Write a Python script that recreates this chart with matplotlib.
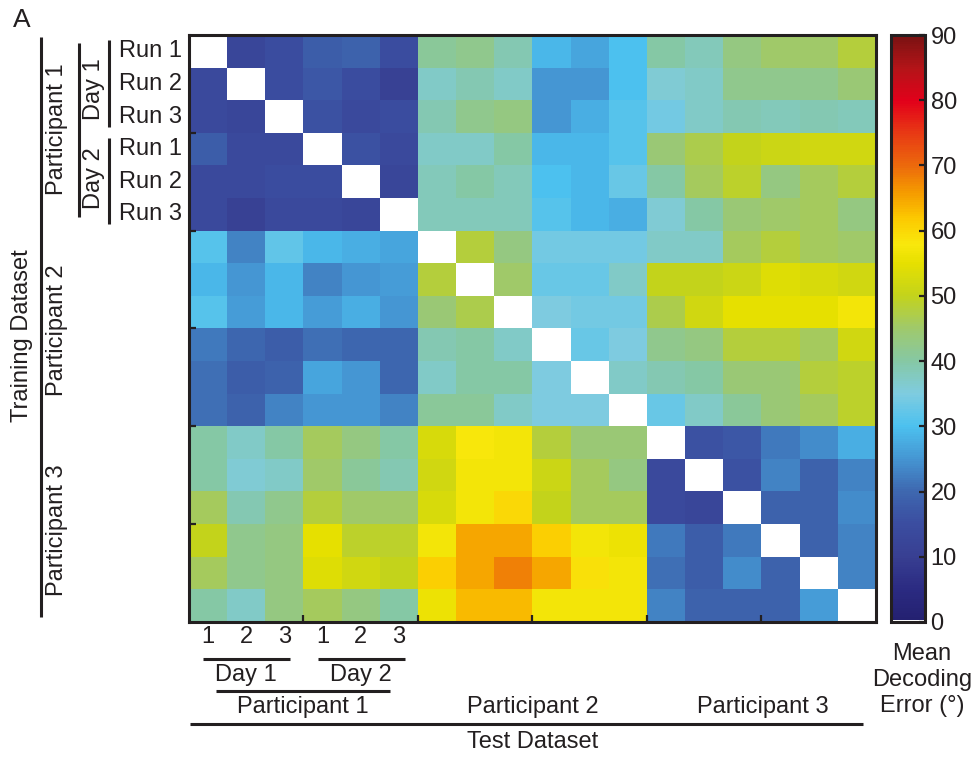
import numpy as np
import matplotlib
matplotlib.use('Agg')
import matplotlib.pyplot as plt
from matplotlib.colors import LinearSegmentedColormap, ListedColormap

plt.rcParams['font.family'] = ['Liberation Sans', 'DejaVu Sans']
INK = '#231f20'

# mean decoding error (deg), rows = training run, cols = test run
# order: P1 D1 R1-3, P1 D2 R1-3, P2 D1 R1-3, P2 D2 R1-3, P3 D1 R1-3, P3 D2 R1-3
err = np.array([
    [0, 13, 15, 18, 19, 15, 41, 42, 39, 29, 27, 30, 40, 38, 43, 45, 45, 48],
    [14, 0, 15, 17, 15, 11, 37, 39, 37, 25, 25, 30, 36, 37, 42, 42, 42, 44],
    [14, 13, 0, 16, 14, 15, 39, 42, 43, 25, 28, 31, 34, 37, 39, 38, 39, 38],
    [18, 14, 14, 0, 16, 14, 37, 37, 40, 29, 29, 31, 44, 47, 50, 51, 52, 52],
    [14, 14, 15, 15, 0, 13, 38, 40, 38, 30, 29, 33, 40, 46, 49, 43, 46, 48],
    [14, 11, 14, 14, 13, 0, 38, 38, 38, 31, 29, 28, 36, 40, 44, 45, 46, 43],
    [31, 23, 32, 29, 28, 27, 0, 48, 43, 34, 34, 34, 37, 37, 46, 48, 46, 45],
    [29, 25, 29, 23, 25, 26, 48, 0, 45, 33, 33, 37, 50, 50, 51, 54, 53, 52],
    [31, 26, 29, 26, 28, 25, 44, 47, 0, 35, 34, 34, 47, 52, 55, 55, 55, 57],
    [22, 20, 18, 21, 20, 20, 39, 40, 37, 0, 33, 35, 42, 43, 48, 48, 46, 52],
    [21, 18, 19, 27, 25, 20, 37, 40, 40, 35, 0, 37, 39, 40, 44, 44, 48, 49],
    [21, 19, 23, 25, 25, 23, 41, 41, 37, 35, 35, 0, 33, 37, 41, 44, 46, 49],
    [40, 37, 40, 46, 43, 40, 53, 58, 57, 48, 44, 44, 0, 16, 17, 22, 24, 28],
    [40, 36, 37, 45, 41, 39, 52, 57, 57, 51, 46, 43, 14, 0, 16, 23, 19, 23],
    [46, 39, 42, 48, 45, 45, 53, 57, 60, 50, 46, 46, 14, 13, 0, 19, 19, 24],
    [50, 42, 43, 55, 49, 49, 57, 65, 65, 61, 57, 56, 22, 18, 22, 0, 19, 23],
    [46, 42, 43, 54, 52, 50, 61, 65, 68, 65, 59, 57, 21, 18, 24, 19, 0, 23],
    [40, 37, 43, 46, 43, 40, 56, 63, 63, 57, 57, 57, 23, 19, 19, 19, 26, 0],
])

run_labels = ['Run 1', 'Run 2', 'Run 3'] * 2
run_nums = ['1', '2', '3'] * 2
participants = ['Participant 1', 'Participant 2', 'Participant 3']
cbar_ticks = list(range(0, 91, 10))

# colour scale, lowest bin white so the diagonal drops out
stops = [(0, '#242070'), (5, '#2b2b82'), (10, '#383f92'), (15, '#3b4da0'),
         (20, '#3e68b0'), (25, '#4596d3'), (30, '#4cc1ef'), (35, '#7fcce0'),
         (40, '#86c8a4'), (45, '#9fc96c'), (50, '#c3d31c'), (55, '#e6e000'),
         (58, '#f9e80c'), (62, '#fcc800'), (66, '#f59a00'), (70, '#ec6a0c'),
         (75, '#e83a14'), (80, '#e2001a'), (85, '#b41418'), (90, '#7a1212')]
base = LinearSegmentedColormap.from_list('err', [(v / 90, c) for v, c in stops])
cols = base(np.linspace(0, 1, 256))
cols[0] = [1, 1, 1, 1]
cmap = ListedColormap(cols)

W, H = 977, 759
fig = plt.figure(figsize=(W / 100, H / 100), dpi=100)
ax = fig.add_axes([189 / W, 1 - 622 / H, 687 / W, 587 / H])
im = ax.imshow(err, cmap=cmap, vmin=0, vmax=90, aspect='auto',
               interpolation='nearest')

for s in ax.spines.values():
    s.set_linewidth(2.2)
    s.set_color(INK)
ax.set_xticks([2.5, 5.5, 8.5, 11.5, 14.5])
ax.set_yticks([2.5, 5.5, 8.5, 11.5, 14.5])
ax.tick_params(direction='in', length=5, width=1.6, color=INK,
               labelleft=False, labelbottom=False, top=False, right=False)

fs = 17
kw = dict(color=INK, fontsize=fs, clip_on=False)

def vline(x, y0, y1):
    ax.plot([x, x], [y0, y1], color=INK, lw=2.2, clip_on=False,
            solid_capstyle='butt')

def hline(y, x0, x1):
    ax.plot([x0, x1], [y, y], color=INK, lw=2.2, clip_on=False,
            solid_capstyle='butt')

# left side: training runs
for i, lab in enumerate(run_labels):
    ax.text(-0.68, i, lab, ha='right', va='center', **kw)
vline(-2.6, -0.35, 2.32)
vline(-2.6, 2.66, 5.3)
ax.text(-2.99, 1.15, 'Day 1', rotation=90, ha='center', va='center', **kw)
ax.text(-2.99, 3.88, 'Day 2', rotation=90, ha='center', va='center', **kw)
vline(-3.38, -0.26, 5.08)
for y, lab in zip([2.4, 8.55, 14.68], participants):
    ax.text(-3.96, y, lab, rotation=90, ha='center', va='center', **kw)
vline(-4.38, -0.44, 17.35)
ax.text(-4.88, 8.73, 'Training Dataset', rotation=90, ha='center',
        va='center', **kw)

# bottom: test runs
for i, lab in enumerate(run_nums):
    ax.text(i, 17.97, lab, ha='center', va='center', **kw)
hline(18.64, -0.13, 2.15)
hline(18.64, 2.88, 5.16)
ax.text(1.0, 19.13, 'Day 1', ha='center', va='center', **kw)
ax.text(4.0, 19.13, 'Day 2', ha='center', va='center', **kw)
hline(19.62, 0.21, 4.77)
for x, lab in zip([2.49, 8.51, 14.54], participants):
    ax.text(x, 20.11, lab, ha='center', va='center', **kw)
hline(20.63, -0.47, 17.16)
ax.text(8.51, 21.19, 'Test Dataset', ha='center', va='center', **kw)

ax.set_xlim(-0.5, 17.5)
ax.set_ylim(17.5, -0.5)

# colour bar
cax = fig.add_axes([891 / W, 1 - 622 / H, 34 / W, 587 / H])
cb = fig.colorbar(im, cax=cax, ticks=cbar_ticks)
cb.outline.set_linewidth(2.2)
cb.outline.set_edgecolor(INK)
cax.tick_params(direction='in', length=4, width=1.6, color=INK,
                labelsize=fs, labelcolor=INK, pad=4)
fig.text(922 / W, 1 - 680 / H, 'Mean\nDecoding\nError (°)', ha='center',
         va='center', color=INK, fontsize=fs, linespacing=1.22)

fig.text(13 / W, 1 - 27 / H, 'A', color=INK, fontsize=19, va='baseline')

fig.savefig('out.png', dpi=100)
